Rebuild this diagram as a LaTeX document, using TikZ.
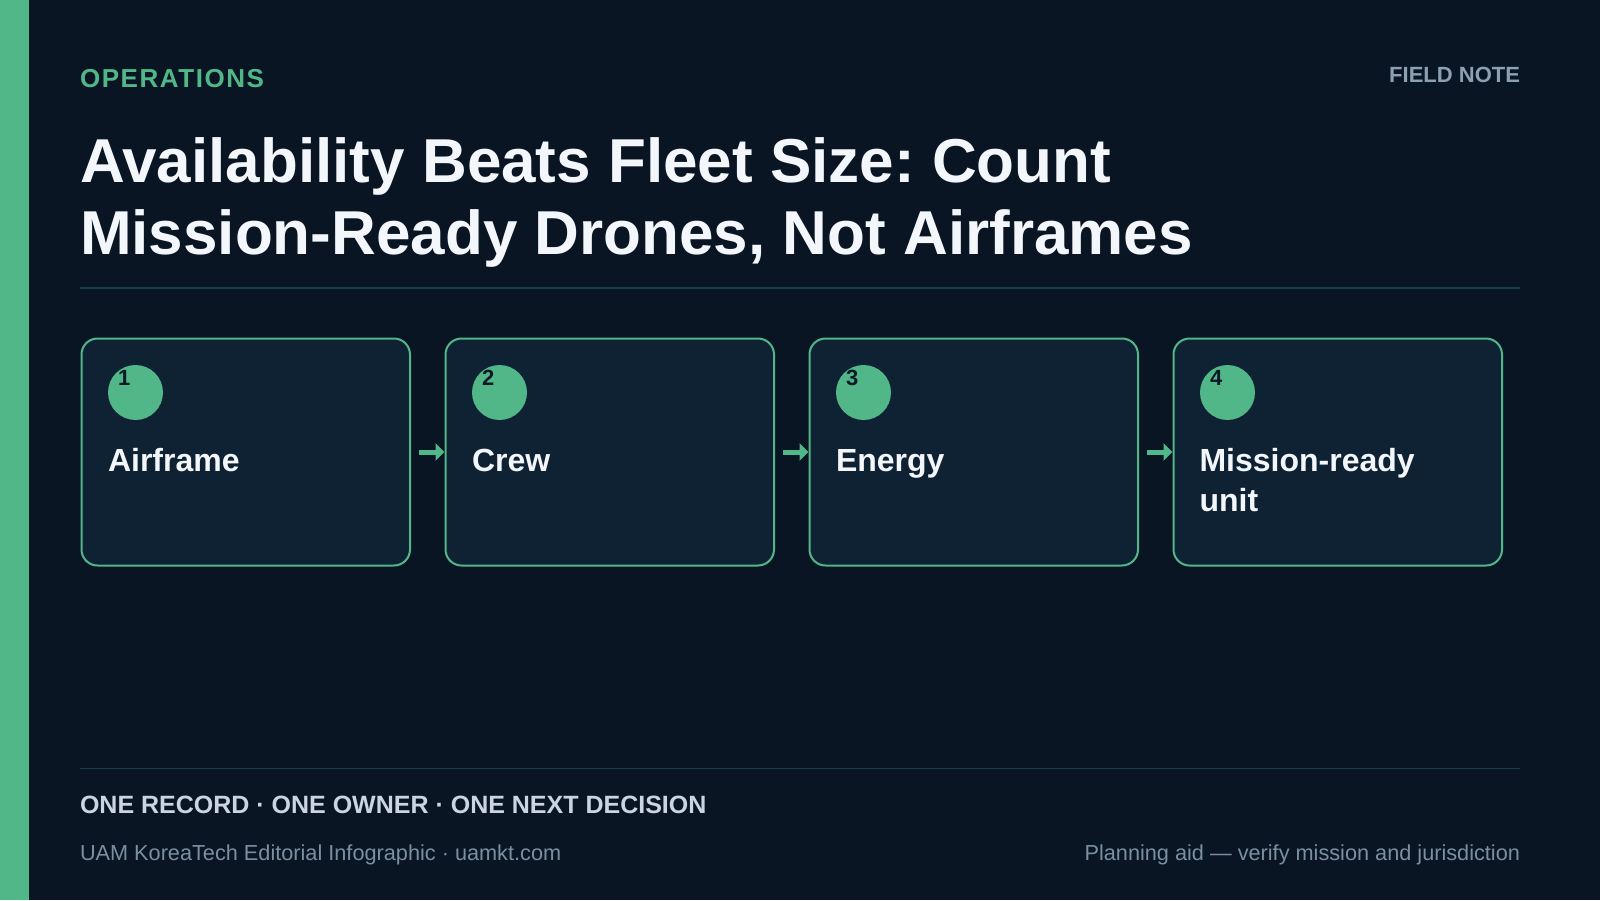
\documentclass[tikz,border=0pt]{standalone}
\usepackage{fontspec}
\setmainfont{Liberation Sans}
\newfontfamily\spacedsans[LetterSpace=6]{Liberation Sans}
\usetikzlibrary{arrows.meta,calc}
\frenchspacing
\definecolor{bgc}{HTML}{091522}
\definecolor{boxfill}{HTML}{0F2234}
\definecolor{accent}{HTML}{52B788}
\definecolor{titlec}{HTML}{F3F6FA}
\definecolor{fieldc}{HTML}{8CA0B4}
\definecolor{mottoc}{HTML}{CBD5E1}
\definecolor{footc}{HTML}{7B8FA3}
\definecolor{rulec}{HTML}{1F3B4E}
\definecolor{numc}{HTML}{0B1A26}
\tikzset{
  txt/.style={inner sep=0pt, outer sep=0pt, anchor=base west},
  rtxt/.style={inner sep=0pt, outer sep=0pt, anchor=base east},
  stepbox/.style={draw=accent, fill=boxfill, line width=2pt, rounded corners=16pt,
    minimum width=328.5pt, minimum height=227pt, inner sep=0pt, anchor=north west},
  numdot/.style={circle, fill=accent, minimum size=55pt, inner sep=0pt},
  numtext/.style={txt, text=numc, font=\fontsize{22}{26}\selectfont\bfseries},
  steplabel/.style={txt, text=titlec, font=\fontsize{32}{40}\selectfont\bfseries},
  flow/.style={draw=accent, line width=5pt, -{Triangle[length=9pt,width=17pt]}},
  rule/.style={draw=rulec, line width=1.5pt},
}
\begin{document}
\frenchspacing
\begin{tikzpicture}[x=1pt,y=-1pt]
\useasboundingbox (0,0) rectangle (1600,900);
\fill[bgc] (0,0) rectangle (1600,900);
\fill[accent] (0,0) rectangle (29,900);

\node[txt, text=accent, font=\spacedsans\fontsize{26}{30}\selectfont\bfseries] (kicker) at (80,87) {OPERATIONS};
\node[rtxt, text=fieldc, font=\fontsize{22}{26}\selectfont\bfseries] (field) at (1520,82) {FIELD NOTE};

\node[txt, text=titlec, font=\fontsize{62}{72}\selectfont\bfseries\frenchspacing] (title1) at (80,182) {Availability Beats Fleet Size: Count};
\node[txt, text=titlec, font=\fontsize{62}{72}\selectfont\bfseries\frenchspacing] (title2) at (80,254) {Mission-Ready Drones, Not Airframes};

\coordinate (r1a) at (80,288);
\coordinate (r1b) at (1520,288);
\draw[rule] (r1a) -- (r1b);

\foreach \i/\x in {1/80.5,2/444.5,3/808.5,4/1172.5}{
  \node[stepbox] (b\i) at (\x,337.5) {};
  \node[numdot] (c\i) at ($(b\i.north west)+(55,55)$) {};
  \node[numtext] (n\i) at ($(b\i.north west)+(37.5,47.5)$) {\i};
}
\node[steplabel] (l1) at ($(b1.north west)+(27.5,133.5)$) {Airframe};
\node[steplabel] (l2) at ($(b2.north west)+(27.5,133.5)$) {Crew};
\node[steplabel] (l3) at ($(b3.north west)+(27.5,133.5)$) {Energy};
\node[steplabel] (l4a) at ($(b4.north west)+(27,133.5)$) {Mission-ready};
\node[steplabel] (l4b) at ($(b4.north west)+(27,173.5)$) {unit};

\draw[flow] ([xshift=8pt]b1.east) -- (b2.west);
\draw[flow] ([xshift=8pt]b2.east) -- (b3.west);
\draw[flow] ([xshift=8pt]b3.east) -- (b4.west);

\coordinate (r2a) at (80,768.5);
\coordinate (r2b) at (1520,768.5);
\draw[rule] (r2a) -- (r2b);

\node[txt, text=mottoc, font=\fontsize{25}{30}\selectfont\bfseries] (motto) at (80,813.5) {ONE RECORD · ONE OWNER · ONE NEXT DECISION};
\node[txt, text=footc, font=\fontsize{21.7}{26}\selectfont] (credit) at (80,860) {UAM KoreaTech Editorial Infographic · uamkt.com};
\node[rtxt, text=footc, font=\fontsize{21.7}{26}\selectfont] (note) at (1520,860) {Planning aid — verify mission and jurisdiction};
\end{tikzpicture}
\end{document}
